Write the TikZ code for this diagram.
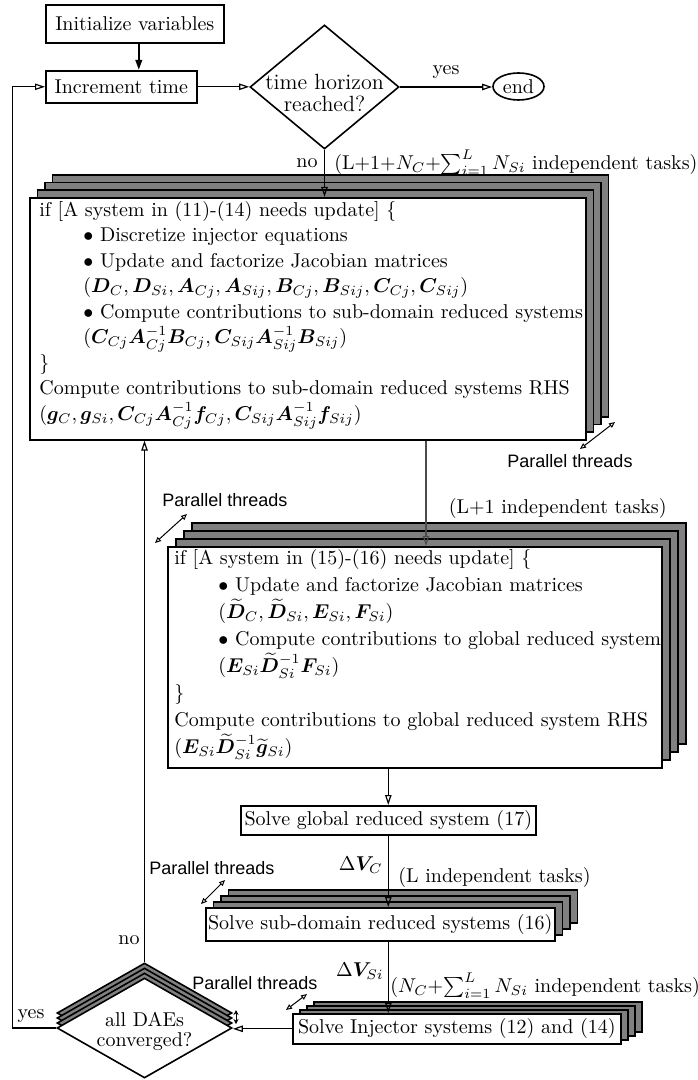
\documentclass[tikz,border=0pt]{standalone}
\usepackage{amsmath}
\usepackage{bm}
\usepackage{fontspec}
\newfontfamily\sansthreads{Liberation Sans}
\usetikzlibrary{arrows.meta,shapes.geometric,shadows,calc}
\begin{document}
\begin{tikzpicture}[x=0.5pt,y=-0.5pt,
  every node/.style={font=\fontsize{10}{12}\selectfont},
  box/.style={draw=black, line width=0.8pt, fill=white, rectangle, inner sep=0pt, anchor=north west},
  txt/.style={inner sep=0pt, align=left, anchor=north west},
  arr/.style={line width=0.6pt, -{Triangle[open,length=5pt,width=3.2pt]}},
  par/.style={line width=0.5pt, {Triangle[open,length=3pt,width=2.6pt]}-{Triangle[open,length=3pt,width=2.6pt]}},
  ptext/.style={font=\sansthreads\fontsize{9}{10}\selectfont, inner sep=0pt},
  lbl/.style={inner sep=0pt},
  lay/.style n args={2}{general shadow={shadow xshift=#1, shadow yshift=#2, fill=gray, draw=black}},
  stackA/.style={lay={11.4pt}{11.4pt}, lay={7.6pt}{7.6pt}, lay={3.8pt}{3.8pt}},
  stackB/.style={lay={12pt}{12pt}, lay={8pt}{8pt}, lay={4pt}{4pt}},
  stackC/.style={lay={11.25pt}{9pt}, lay={7.5pt}{6pt}, lay={3.75pt}{3pt}},
  stackD/.style={lay={10.5pt}{6pt}, lay={7pt}{4pt}, lay={3.5pt}{2pt}},
  stackE/.style={lay={0pt}{7.5pt}, lay={0pt}{5pt}, lay={0pt}{2.5pt}},
]
\useasboundingbox (0,0) rectangle (697,1080);

% top part
\node[box, minimum width=89pt, minimum height=19pt] (init) at (45,4) {Initialize variables};
\node[box, minimum width=75.5pt, minimum height=16pt] (inc) at (45,70) {Increment time};
\node[draw=black, line width=0.8pt, diamond, minimum width=74.5pt, minimum height=62pt, inner sep=0pt] (hor) at (324.5,87) {};
\node[align=center, font=\fontsize{11}{11}\selectfont] (hortxt) at (324.5,93) {time horizon\\reached?};
\node[draw=black, line width=0.8pt, ellipse, minimum width=25.5pt, minimum height=13.5pt, inner sep=0pt] (end) at (518.5,86.5) {end};

\draw[arr, line width=1.1pt] ([xshift=2pt]init.south) -- ([xshift=2pt]init.south |- inc.north);
\draw[arr] (inc.east) -- (inc.east -| hor.west);
\draw[arr] (hor.east) -- node[lbl, above=4pt] (yes1) {yes} (hor.east -| end.west);

% first big box
\node[box, stackA, minimum width=278pt, minimum height=121pt] (b1) at (29,197) {};
\node[txt, font=\fontsize{10}{12.75}\selectfont] (b1txt) at (39,201) {\setlength{\lineskiplimit}{-10pt}%
if [A system in (11)-(14) needs update] \{\\
\hspace*{22pt}$\bullet$ Discretize injector equations\\
\hspace*{22pt}$\bullet$ Update and factorize Jacobian matrices\\
\hspace*{22pt}$(\bm{D}_C,\bm{D}_{Si},\bm{A}_{Cj},\bm{A}_{Sij},\bm{B}_{Cj},\bm{B}_{Sij},\bm{C}_{Cj},\bm{C}_{Sij})$\\
\hspace*{22pt}$\bullet$ Compute contributions to sub-domain reduced systems\\
\hspace*{22pt}$(\bm{C}_{Cj}\bm{A}_{Cj}^{-1}\bm{B}_{Cj},\bm{C}_{Sij}\bm{A}_{Sij}^{-1}\bm{B}_{Sij})$\\
\}\\
Compute contributions to sub-domain reduced systems RHS\\
$(\bm{g}_C,\bm{g}_{Si},\bm{C}_{Cj}\bm{A}_{Cj}^{-1}\bm{f}_{Cj},\bm{C}_{Sij}\bm{A}_{Sij}^{-1}\bm{f}_{Sij})$};

\draw[arr] (hor.south) -- (hor.south |- b1.north);
\node[lbl, anchor=east] (no1) at (318,163) {no};
\node[lbl, anchor=west] (task1) at (334,163) {(L+1+$N_C$+$\sum_{i=1}^{L} N_{Si}$ independent tasks)};

\coordinate (p1a) at (580,449);
\coordinate (p1b) at (615,422);
\draw[par] (p1a) -- (p1b);
\node[ptext] (p1t) at (570,461) {Parallel threads};

% second big box
\node[box, stackB, minimum width=247pt, minimum height=110.5pt] (b2) at (167,546) {};
\node[txt, font=\fontsize{10}{13.5}\selectfont] (b2txt) at (174,549) {\setlength{\lineskiplimit}{-10pt}%
if [A system in (15)-(16) needs update] \{\\
\hspace*{22pt}$\bullet$ Update and factorize Jacobian matrices\\
\hspace*{22pt}$(\widetilde{\bm{D}}_C,\widetilde{\bm{D}}_{Si},\bm{E}_{Si},\bm{F}_{Si})$\\
\hspace*{22pt}$\bullet$ Compute contributions to global reduced system\\
\hspace*{22pt}$(\bm{E}_{Si}\widetilde{\bm{D}}_{Si}^{-1}\bm{F}_{Si})$\\
\}\\
Compute contributions to global reduced system RHS\\
$(\bm{E}_{Si}\widetilde{\bm{D}}_{Si}^{-1}\widetilde{\bm{g}}_{Si})$};

\draw[arr, draw=black!70] ([xshift=198.5pt]b1.south west) -- ([xshift=129.5pt]b2.north west);
\node[lbl, anchor=east] (task2) at (667,508) {(L+1 independent tasks)};
\coordinate (p2a) at (155,543);
\coordinate (p2b) at (187,514);
\draw[par] (p2a) -- (p2b);
\node[ptext] (p2t) at (225,500) {Parallel threads};

% global system
\node[box, minimum width=147.5pt, minimum height=14.5pt] (g) at (240,805) {Solve global reduced system (17)};
\draw[arr] (b2.south -| g.north) -- (g.north);

% sub-domain systems
\node[box, stackC, minimum width=174.5pt, minimum height=16.5pt] (sub) at (205,907) {Solve sub-domain reduced systems (16)};
\draw[arr] (g.south) -- (g.south |- sub.north);
\node[lbl, anchor=east] (dvc) at (383,865) {$\Delta\bm{V}_C$};
\node[lbl, anchor=west] (task3) at (398,877) {(L independent tasks)};
\coordinate (p3a) at (201,904);
\coordinate (p3b) at (225,880);
\draw[par] (p3a) -- (p3b);
\node[ptext] (p3t) at (212,868) {Parallel threads};

% injector systems
\node[box, stackD, minimum width=164pt, minimum height=15pt] (inj) at (292,1013) {Solve Injector systems (12) and (14)};
\draw[arr] (sub.south -| g.south) -- (inj.north -| g.south);
\node[lbl, anchor=east] (dvs) at (384,971) {$\Delta\bm{V}_{Si}$};
\node[lbl, anchor=west] (task4) at (390,986) {($N_C$+$\sum_{i=1}^{L} N_{Si}$ independent tasks)};
\coordinate (p4a) at (286,1010);
\coordinate (p4b) at (307,994);
\draw[par] (p4a) -- (p4b);
\node[ptext] (p4t) at (255,983) {Parallel threads};

% convergence diamond
\node[draw=black, line width=0.8pt, fill=white, diamond, stackE, minimum width=87.5pt, minimum height=50pt, inner sep=0pt] (dae) at (144.5,1028) {};
\node[align=center, font=\fontsize{10}{10}\selectfont] (daetxt) at (144.5,1031) {all DAEs\\converged?};
\draw[arr] (inj.west) -- (inj.west -| dae.east);
\coordinate (pda) at (236,1010);
\coordinate (pdb) at (236,1024);
\draw[line width=0.5pt, {Stealth[length=2.5pt,width=2.5pt]}-{Stealth[length=2.5pt,width=2.5pt]}] (pda) -- (pdb);

% loops
\draw[arr] ([yshift=7.5pt]dae.north) -- (dae.north |- b1.south);
\node[lbl, anchor=east] (no2) at (140,940) {no};
\draw[arr] (dae.west) -- ++(-44,0) |- (inc.west);
\node[lbl] (yes2) at (31,1016) {yes};
\end{tikzpicture}
\end{document}
